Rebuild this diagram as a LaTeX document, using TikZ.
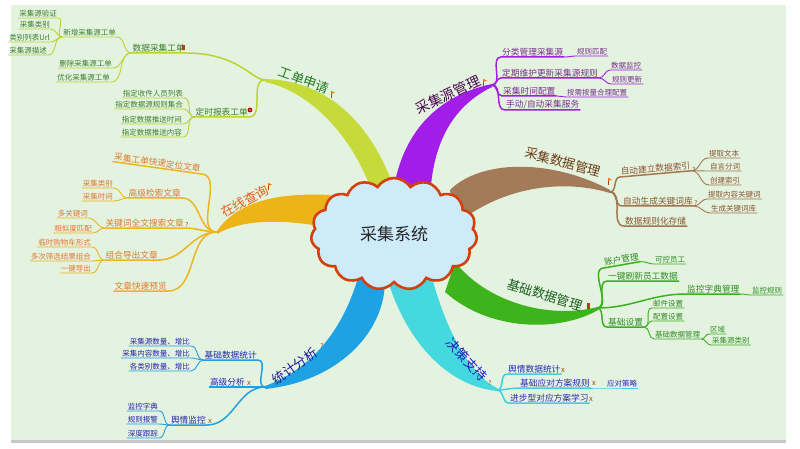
\documentclass[tikz,border=0pt]{standalone}
\usepackage{fontspec}
\setmainfont{Noto Sans CJK SC}
\usetikzlibrary{shapes.symbols}
\definecolor{bgc}{HTML}{E3F3E0}
\definecolor{c1}{HTML}{C6DA3A}\definecolor{l1}{HTML}{BCD330}\definecolor{t1}{HTML}{3A7F2A}\definecolor{m1}{HTML}{1E7A1E}
\definecolor{c2}{HTML}{A21DE8}\definecolor{l2}{HTML}{A020E0}\definecolor{t2}{HTML}{7B2D8E}\definecolor{m2}{HTML}{4A0A50}
\definecolor{c3}{HTML}{A47B58}\definecolor{l3}{HTML}{A07850}\definecolor{t3}{HTML}{8B5530}\definecolor{m3}{HTML}{6B3A15}
\definecolor{c4}{HTML}{3DB41C}\definecolor{l4}{HTML}{3CB01E}\definecolor{t4}{HTML}{2E8B22}\definecolor{m4}{HTML}{1B5E1B}
\definecolor{c5}{HTML}{45D8DE}\definecolor{l5}{HTML}{40D0E0}\definecolor{t5}{HTML}{2A2AB0}\definecolor{m5}{HTML}{1A1AB8}
\definecolor{c6}{HTML}{1FA2E4}\definecolor{l6}{HTML}{20A0E0}\definecolor{t6}{HTML}{2424A8}\definecolor{m6}{HTML}{1A1A9A}
\definecolor{c7}{HTML}{EDB417}\definecolor{l7}{HTML}{EDB520}\definecolor{t7}{HTML}{E0782A}\definecolor{m7}{HTML}{E2601A}
\definecolor{cloudfill}{HTML}{CDEBF8}\definecolor{cloudline}{HTML}{D4400C}
\definecolor{mk}{HTML}{B04010}
\begin{document}
\begin{tikzpicture}[x=1pt,y=-1pt,
  lvA/.style={inner xsep=1pt,inner ysep=1pt,font=\fontsize{8.7}{9}\selectfont},
  lvB/.style={inner xsep=1pt,inner ysep=1pt,font=\fontsize{7.5}{8}\selectfont},
  main/.style={inner sep=1pt,font=\fontsize{13}{13}\selectfont},
  wA/.style={line width=1.5pt},
  wB/.style={line width=0.9pt},
  lk/.style={out=180,in=0},
  rk/.style={out=0,in=180},
  qm/.style={inner sep=0pt,font=\fontsize{6.5}{6.5}\selectfont,text=mk},
  xm/.style={inner sep=0pt,font=\fontsize{7.5}{7.5}\selectfont,text=mk}]
\useasboundingbox (0,0) rectangle (800,449);
\fill[white] (0,0) rectangle (800,449);
\fill[bgc] (11,5) rectangle (786,440);
\fill[black!22] (11,440) rectangle (786,443);

% main branches
\fill[c1] (265,79) .. controls (320,80) and (372,115) .. (398,200) -- (375,200) .. controls (352,130) and (305,90) .. (265,82) -- cycle;
\fill[c2] (392,200) .. controls (400,130) and (440,95) .. (492,84) -- (492,87) .. controls (455,105) and (432,140) .. (430,200) -- cycle;
\fill[c3] (450,190) .. controls (480,160) and (550,158) .. (610,190) -- (610,193) .. controls (560,178) and (500,188) .. (455,225) -- cycle;
\fill[c4] (455,262) .. controls (485,300) and (545,320) .. (598,307) -- (598,310) .. controls (560,332) and (490,332) .. (445,292) -- cycle;
\fill[c6] (360,270) .. controls (345,330) and (310,370) .. (265,386) -- (265,389) .. controls (335,382) and (385,335) .. (385,280) -- cycle;
\fill[c5] (385,270) .. controls (400,330) and (440,385) .. (497,391) -- (497,388) .. controls (470,375) and (445,330) .. (430,270) -- cycle;
\fill[c7] (217,231) .. controls (235,205) and (270,192) .. (330,195) -- (330,228) .. controls (280,218) and (240,220) .. (217,234) -- cycle;

% centre
\node[cloud,cloud puffs=15,cloud puff arc=115,aspect=1.5,minimum width=166pt,minimum height=112pt,
  draw=cloudline,line width=2.6pt,fill=cloudfill,font=\fontsize{17}{17}\selectfont,text=black!85] (root) at (394,234) {采集系统};

% main labels
\node[main,text=m1,rotate=-20] (b1) at (304,80) {工单申请};
\node[main,text=m2,rotate=25,font=\fontsize{14}{14}\selectfont] (b2) at (448,95) {采集源管理};
\node[main,text=m3,rotate=-15] (b3) at (563,162) {采集数据管理};
\node[main,text=m4,rotate=-17] (b4) at (545,295) {基础数据管理};
\node[main,text=m5,rotate=-48] (b5) at (467,360) {决策支持};
\node[main,text=m6,rotate=36] (b6) at (295,366) {统计分析};
\node[main,text=m7,rotate=28] (b7) at (245,201) {在线查询};

% ---------- 工单申请 ----------
\coordinate (J1) at (265,80);
\begin{scope}[text=t1,draw=l1]
\node[lvA,anchor=south east] (d1) at (186,53) {数据采集工单};
\node[lvA,anchor=south east] (d2) at (249,117) {定时报表工单};
\node[lvB,anchor=south east] (d11) at (117,37) {新增采集源工单};
\node[lvB,anchor=south east] (d12) at (113,68) {删除采集源工单};
\node[lvB,anchor=south east] (d13) at (111,82) {优化采集源工单};
\node[lvB,anchor=south east] (d111) at (58,18) {采集源验证};
\node[lvB,anchor=south east] (d112) at (51,29) {采集类别};
\node[lvB,anchor=south east] (d113) at (51,42) {类别列表Url};
\node[lvB,anchor=south east] (d114) at (48,55) {采集源描述};
\node[lvB,anchor=south east] (d21) at (184,98) {指定收件人员列表};
\node[lvB,anchor=south east] (d22) at (184,109) {指定数据源规则集合};
\node[lvB,anchor=south east] (d23) at (183,124) {指定数据推送时间};
\node[lvB,anchor=south east] (d24) at (183,137) {指定数据推送内容};
\end{scope}
\begin{scope}[draw=l1]
\draw[wA] (J1) to[lk,out looseness=0.4,in looseness=1.6] (d1.south east) -- (d1.south west);
\draw[wA] (J1) to[lk] (d2.south east) -- (d2.south west);
\foreach \c in {d11,d12,d13} \draw[wB] (d1.south west) to[lk] (\c.south east) -- (\c.south west);
\foreach \c in {d111,d112,d113,d114} \draw[wB] (d11.south west) to[lk] (\c.south east) -- (\c.south west);
\foreach \c in {d21,d22,d23,d24} \draw[wB] (d2.south west) to[lk] (\c.south east) -- (\c.south west);
\end{scope}
\fill[mk] (182,45) rectangle (184.5,50);
\fill[red!75!black] (250,110) circle (2.4pt);
\fill[red!45] (250,110) circle (1pt);

% ---------- 采集源管理 ----------
\coordinate (J2) at (492,85);
\begin{scope}[text=t2]
\node[lvA,anchor=south west] (s1) at (501,57) {分类管理采集源};
\node[lvB,anchor=south west] (s11) at (576,56) {规则匹配};
\node[lvA,anchor=south west] (s2) at (501,78) {定期维护更新采集源规则};
\node[lvB,anchor=south west] (s21) at (610,70) {数据监控};
\node[lvB,anchor=south west] (s22) at (611,84) {规则更新};
\node[lvA,anchor=south west] (s3) at (502,96) {采集时间配置};
\node[lvB,anchor=south west] (s31) at (566,97) {按需按量合理配置};
\node[lvA,anchor=south west] (s4) at (505,110) {手动/自动采集服务};
\end{scope}
\begin{scope}[draw=l2]
\foreach \c in {s1,s2,s3,s4} \draw[wA] (J2) to[rk] (\c.south west) -- (\c.south east);
\draw[wB] (s1.south east) to[rk] (s11.south west) -- (s11.south east);
\foreach \c in {s21,s22} \draw[wB] (s2.south east) to[rk] (\c.south west) -- (\c.south east);
\draw[wB] (s3.south east) to[rk] (s31.south west) -- (s31.south east);
\end{scope}

% ---------- 采集数据管理 ----------
\coordinate (J3) at (610,192);
\begin{scope}[text=t3]
\node[lvA,anchor=south west,rotate=5] (k1) at (620,177) {自动建立数据索引};
\node[lvB,anchor=south west] (k11) at (708,158) {提取文本};
\node[lvB,anchor=south west] (k12) at (709,171) {自言分词};
\node[lvB,anchor=south west] (k13) at (709,185) {创建索引};
\node[lvA,anchor=south west] (k2) at (622,206) {自动生成关键词库};
\node[lvB,anchor=south west] (k21) at (707,199) {提取内容关键词};
\node[lvB,anchor=south west] (k22) at (710,213) {生成关键词库};
\node[lvA,anchor=south west] (k3) at (624,226) {数据规则化存储};
\end{scope}
\begin{scope}[draw=l3]
\foreach \c in {k1,k2,k3} \draw[wA] (J3) to[rk] (\c.south west) -- (\c.south east);
\foreach \c in {k11,k12,k13} \draw[wB] (k1.south east) to[rk] (\c.south west) -- (\c.south east);
\foreach \c in {k21,k22} \draw[wB] (k2.south east) to[rk] (\c.south west) -- (\c.south east);
\end{scope}
\node[qm] (q1) at (694,170) {?};
\node[qm] (q2) at (696,203) {?};

% ---------- 基础数据管理 ----------
\coordinate (J4) at (597,308);
\begin{scope}[text=t4]
\node[lvA,anchor=south west,rotate=10] (g1) at (604,268) {账户管理};
\node[lvB,anchor=south west] (g11) at (654,264) {可控员工};
\node[lvA,anchor=south west] (g2) at (607,281) {一键刷新员工数据};
\node[lvA,anchor=south west] (g3) at (686,294) {监控字典管理};
\node[lvB,anchor=south west] (g31) at (751,295) {监控规则};
\node[lvA,anchor=south west] (g4) at (607,327) {基础设置};
\node[lvB,anchor=south west] (g41) at (652,308) {邮件设置};
\node[lvB,anchor=south west] (g42) at (652,321) {配置设置};
\node[lvB,anchor=south west] (g43) at (654,339) {基础数据管理};
\node[lvB,anchor=south west] (g431) at (709,334) {区域};
\node[lvB,anchor=south west] (g432) at (711,345) {采集源类别};
\end{scope}
\begin{scope}[draw=l4]
\foreach \c in {g1,g2,g3,g4} \draw[wA] (J4) to[rk] (\c.south west) -- (\c.south east);
\draw[wB] (g1.south east) to[rk] (g11.south west) -- (g11.south east);
\draw[wB] (g3.south east) to[rk] (g31.south west) -- (g31.south east);
\foreach \c in {g41,g42,g43} \draw[wB] (g4.south east) to[rk] (\c.south west) -- (\c.south east);
\foreach \c in {g431,g432} \draw[wB] (g43.south east) to[rk] (\c.south west) -- (\c.south east);
\end{scope}
\fill[mk] (587,303) rectangle (590,309);

% ---------- 决策支持 ----------
\coordinate (J5) at (497,390);
\begin{scope}[text=t5]
\node[lvA,anchor=south west] (e1) at (507,374) {舆情数据统计};
\node[lvA,anchor=south west] (e2) at (519,388) {基础应对方案规则};
\node[lvB,anchor=south west] (e21) at (606,388) {应对策略};
\node[lvA,anchor=south west] (e3) at (509,403) {进步型对应方案学习};
\end{scope}
\begin{scope}[draw=l5]
\foreach \c in {e1,e2,e3} \draw[wA] (J5) to[rk] (\c.south west) -- (\c.south east);
\draw[wB] (e2.south east) to[rk] (e21.south west) -- (e21.south east);
\end{scope}
\node[xm] (x1) at (563,370) {x};
\node[xm] (x2) at (594,383) {x};
\node[xm] (x3) at (591,399) {x};
\node[qm] (q3) at (490,383) {?};

% ---------- 统计分析 ----------
\coordinate (J6) at (265,387);
\begin{scope}[text=t6]
\node[lvA,anchor=south east] (f1) at (258,360) {基础数据统计};
\node[lvB,anchor=south east] (f11) at (191,346) {采集源数量、增比};
\node[lvB,anchor=south east] (f12) at (191,358) {采集内容数量、增比};
\node[lvB,anchor=south east] (f13) at (191,371) {各类别数量、增比};
\node[lvA,anchor=south east] (f2) at (246,387) {高级分析};
\node[lvA,anchor=south east] (f3) at (207,425) {舆情监控};
\node[lvB,anchor=south east] (f31) at (159,411) {监控字典};
\node[lvB,anchor=south east] (f32) at (159,424) {规则报警};
\node[lvB,anchor=south east] (f33) at (159,438) {深度跟踪};
\end{scope}
\begin{scope}[draw=l6]
\foreach \c in {f1,f2,f3} \draw[wA] (J6) to[lk] (\c.south east) -- (\c.south west);
\foreach \c in {f11,f12,f13} \draw[wB] (f1.south west) to[lk] (\c.south east) -- (\c.south west);
\foreach \c in {f31,f32,f33} \draw[wB] (f3.south west) to[lk] (\c.south east) -- (\c.south west);
\end{scope}
\node[xm] (x4) at (249,383) {x};
\node[xm] (x5) at (210,421) {x};
\node[qm] (q4) at (322,346) {?};

% ---------- 在线查询 ----------
\coordinate (J7) at (217,232);
\begin{scope}[text=t7]
\node[lvA,anchor=south east,rotate=-8] (o1) at (201,174) {采集工单快速定位文章};
\node[lvA,anchor=south east] (o2) at (182,198) {高级检索文章};
\node[lvB,anchor=south east] (o21) at (114,188) {采集类别};
\node[lvB,anchor=south east] (o22) at (114,201) {采集时间};
\node[lvA,anchor=south east] (o3) at (185,228) {关键词全文搜索文章};
\node[lvB,anchor=south east] (o31) at (89,218) {多关键词};
\node[lvB,anchor=south east] (o32) at (93,233) {相似度匹配};
\node[lvA,anchor=south east] (o4) at (159,260) {组合导出文章};
\node[lvB,anchor=south east] (o41) at (92,247) {临时购物车形式};
\node[lvB,anchor=south east] (o42) at (92,261) {多次筛选结果组合};
\node[lvB,anchor=south east] (o43) at (92,273) {一键导出};
\node[lvA,anchor=south east] (o5) at (168,291) {文章快速预览};
\end{scope}
\begin{scope}[draw=l7]
\foreach \c in {o1,o2,o3,o4,o5} \draw[wA] (J7) to[lk] (\c.south east) -- (\c.south west);
\foreach \c in {o21,o22} \draw[wB] (o2.south west) to[lk] (\c.south east) -- (\c.south west);
\foreach \c in {o31,o32} \draw[wB] (o3.south west) to[lk] (\c.south east) -- (\c.south west);
\foreach \c in {o41,o42,o43} \draw[wB] (o4.south west) to[lk] (\c.south east) -- (\c.south west);
\end{scope}
\node[qm] (q5) at (187,225) {?};

% flags
\draw[mk,line width=0.6pt] (331,98) -- (331,91); \fill[orange!90!red] (331,91) -- (335,92.5) -- (331,94) -- cycle;
\draw[mk,line width=0.6pt] (483,86) -- (483,79); \fill[orange!90!red] (483,79) -- (487,80.5) -- (483,82) -- cycle;
\draw[mk,line width=0.6pt] (608,185) -- (608,178); \fill[orange!90!red] (608,178) -- (612,179.5) -- (608,181) -- cycle;
\draw[mk,line width=0.6pt] (268,190) -- (268,183); \fill[orange!90!red] (268,183) -- (272,184.5) -- (268,186) -- cycle;
\end{tikzpicture}
\end{document}
